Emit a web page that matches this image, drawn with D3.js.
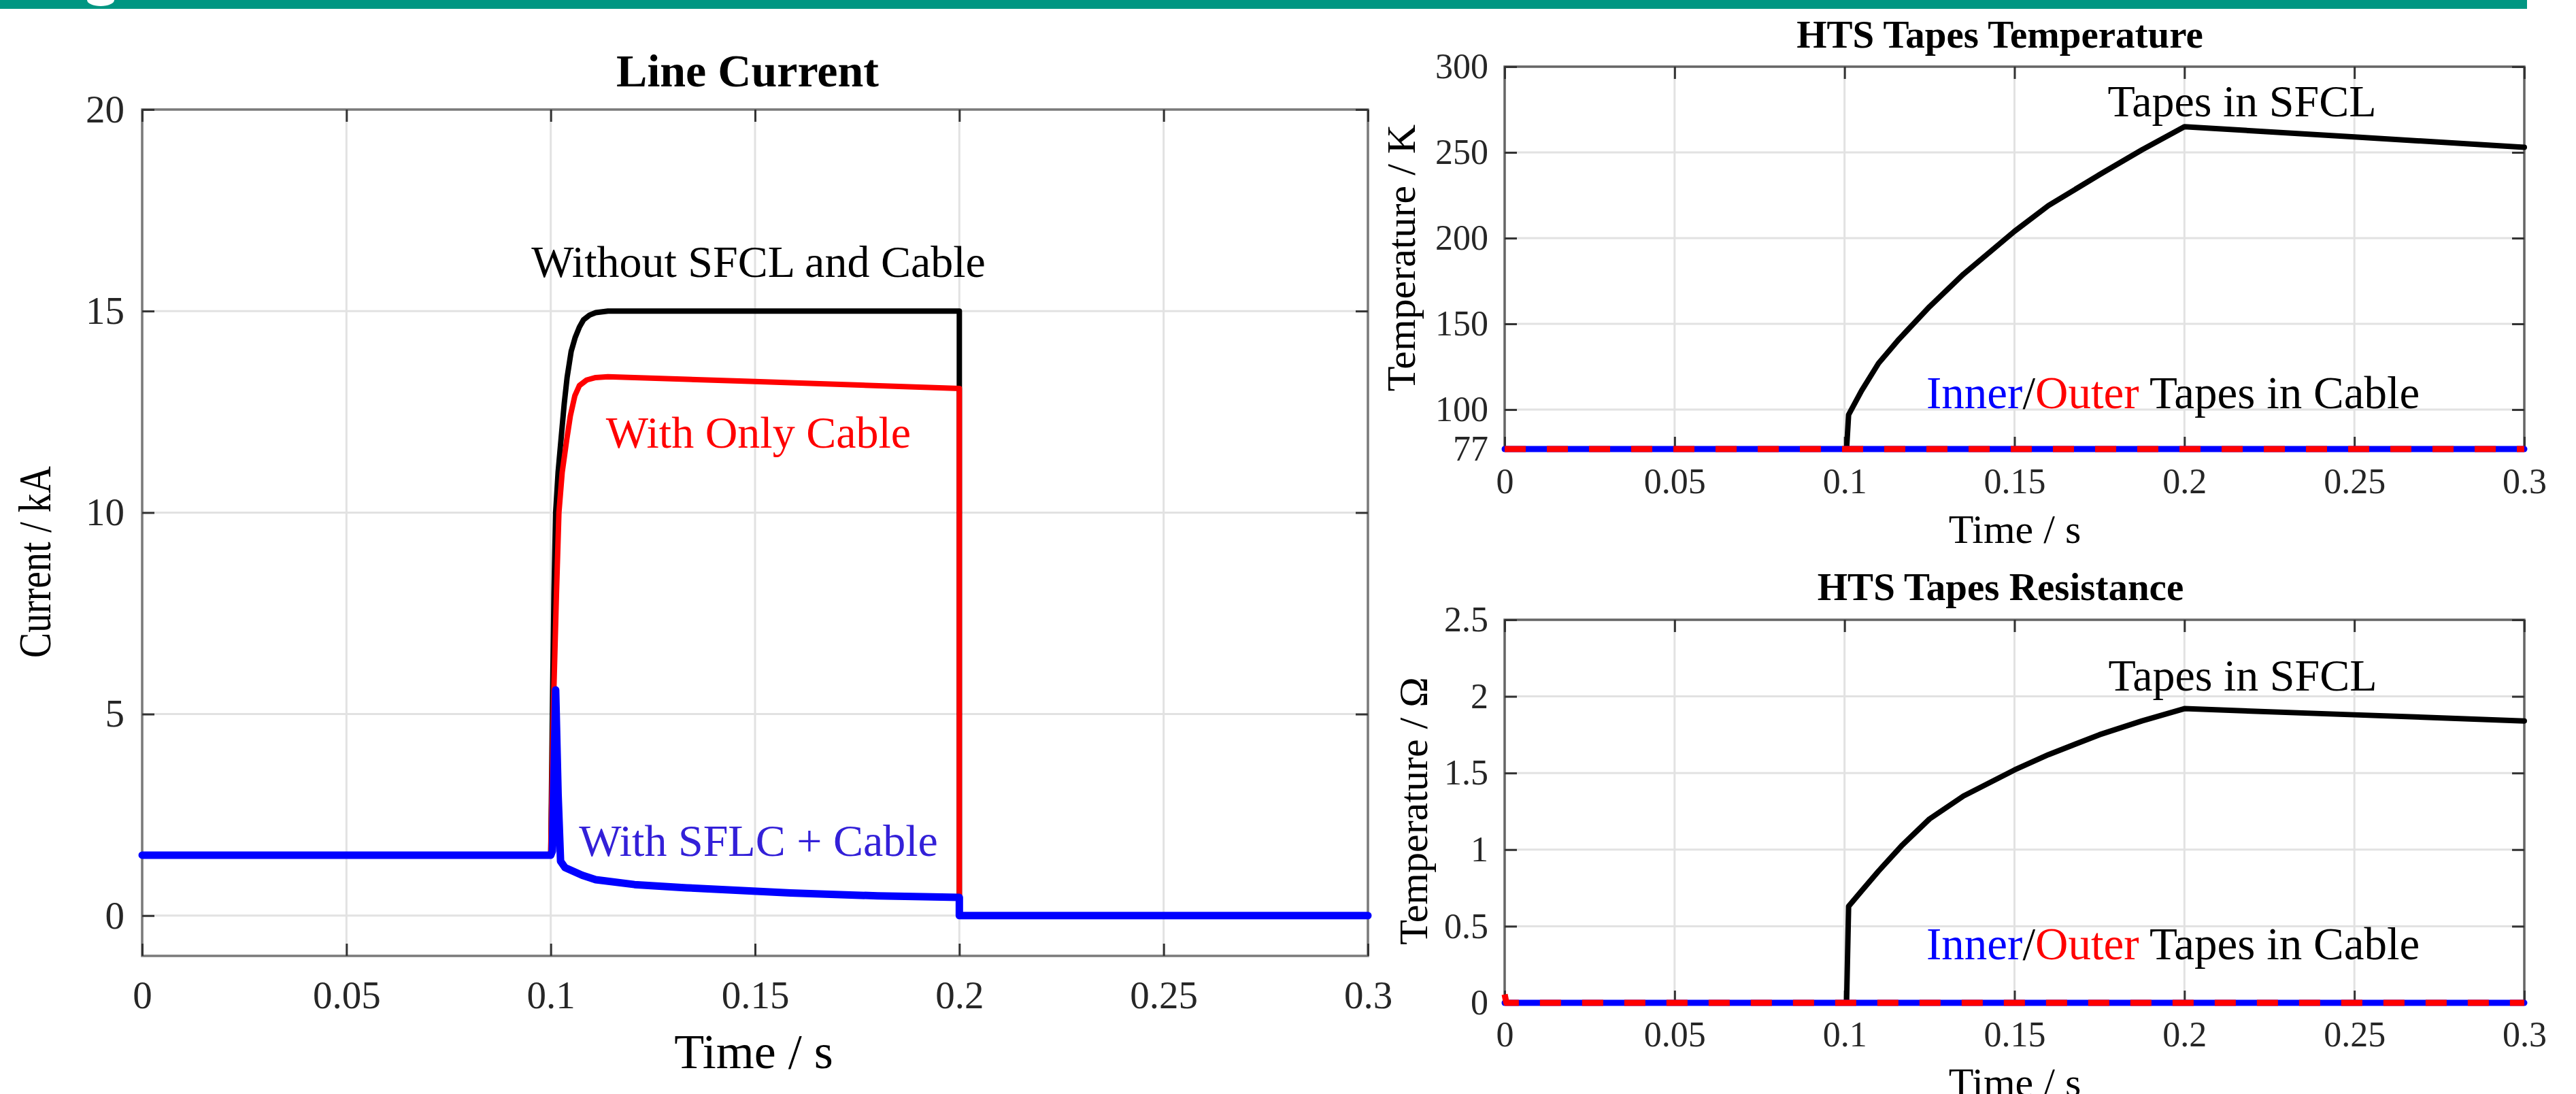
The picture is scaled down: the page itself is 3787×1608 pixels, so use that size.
<!DOCTYPE html>
<html><head><meta charset="utf-8">
<script src="https://cdn.jsdelivr.net/npm/d3@7"></script>
<style>html,body{margin:0;padding:0;background:#fff;} svg{display:block;}</style>
</head><body>
<svg id="c" width="3787" height="1608"></svg>
<script>
// ---------- data ----------
const timeTicks = [0, 0.05, 0.1, 0.15, 0.2, 0.25, 0.3];
const currentTicks = [0, 5, 10, 15, 20];
const tempTicks = [77, 100, 150, 200, 250, 300];
const resTicks = [0, 0.5, 1, 1.5, 2, 2.5];

// Line current (kA)
const tNoSfcl = [0, 0.1, 0.1004, 0.1008, 0.1012, 0.1018, 0.1025, 0.1033, 0.104, 0.105, 0.106, 0.107, 0.108, 0.1095, 0.111, 0.114, 0.2, 0.2, 0.3];
const iNoSfcl = [1.5, 1.5, 5.0, 8.0, 10.0, 11.0, 11.8, 12.7, 13.35, 14.0, 14.35, 14.6, 14.78, 14.9, 14.96, 15.0, 15.0, 0, 0];
const tCable = [0, 0.1, 0.1006, 0.1014, 0.102, 0.1028, 0.1039, 0.1048, 0.1059, 0.107, 0.1088, 0.111, 0.114, 0.15, 0.2, 0.2, 0.3];
const iCable = [1.5, 1.5, 5.0, 8.0, 10.0, 11.0, 11.8, 12.4, 12.9, 13.15, 13.29, 13.35, 13.37, 13.25, 13.08, 0, 0];
const tSfcl = [0, 0.1, 0.1004, 0.1012, 0.1018, 0.1024, 0.1035, 0.1077, 0.111, 0.1205, 0.1333, 0.1587, 0.18, 0.2, 0.2, 0.3];
const iSfcl = [1.5, 1.5, 1.6, 5.6, 3.0, 1.35, 1.19, 1.0, 0.89, 0.77, 0.69, 0.56, 0.49, 0.45, 0, 0];

// Temperature (K)
const tTempSfcl = [0, 0.1006, 0.1012, 0.105, 0.11, 0.116, 0.125, 0.135, 0.15, 0.16, 0.175, 0.1875, 0.2, 0.25, 0.3];
const tempSfcl = [77, 77, 97, 111, 127, 141, 160, 179, 204, 219, 237, 251.5, 265, 259, 253];
const tTempCable = [0, 0.3];
const tempInner = [77, 77];
const tempOuter = [77, 77];

// Resistance (Ohm)
const tResSfcl = [0, 0.1006, 0.1012, 0.105, 0.11, 0.117, 0.125, 0.135, 0.15, 0.16, 0.175, 0.1875, 0.2, 0.25, 0.3];
const resSfcl = [0, 0, 0.63, 0.73, 0.86, 1.03, 1.2, 1.35, 1.52, 1.62, 1.75, 1.84, 1.92, 1.88, 1.84];
const tResInner = [0, 0.3];
const resInner = [0, 0];
const tResOuter = [0, 0.0005, 0.3];
const resOuter = [0.055, 0, 0];

// ---------- drawing ----------
const FONT = "'Liberation Serif', 'Times New Roman', serif";
const svg = d3.select('#c');
svg.append('rect').attr('x', 0).attr('y', 0).attr('width', 3787).attr('height', 1608).attr('fill', '#fff');
svg.append('rect').attr('x', 0).attr('y', 0).attr('width', 3715).attr('height', 13).attr('fill', '#009682');
svg.append('ellipse').attr('cx', 148).attr('cy', 0).attr('rx', 20).attr('ry', 9).attr('fill', '#fff');

const zip = (ts, vs) => ts.map((t, i) => [t, vs[i]]);
const fmtNum = d => String(+d.toFixed(3));

function panel(c) {
  const g = svg.append('g');
  const x = d3.scaleLinear().domain(c.xd).range([c.l, c.r]);
  const y = d3.scaleLinear().domain(c.yd).range([c.b, c.t]);
  g.append('g').selectAll('line').data(c.xticks).join('line')
    .attr('x1', d => x(d)).attr('x2', d => x(d)).attr('y1', c.t).attr('y2', c.b)
    .attr('stroke', '#e2e2e2').attr('stroke-width', 3);
  g.append('g').selectAll('line').data(c.yticks).join('line')
    .attr('x1', c.l).attr('x2', c.r).attr('y1', d => y(d)).attr('y2', d => y(d))
    .attr('stroke', '#e2e2e2').attr('stroke-width', 3);
  g.append('rect').attr('x', c.l).attr('y', c.t).attr('width', c.r - c.l).attr('height', c.b - c.t)
    .attr('fill', 'none').attr('stroke', c.boxColor).attr('stroke-width', 3.5);
  const styleAxis = (sel, fs) => {
    sel.select('.domain').remove();
    sel.selectAll('.tick line').attr('stroke', '#333').attr('stroke-width', 3);
    sel.selectAll('.tick text').attr('fill', '#262626').style('font-family', FONT).style('font-size', fs + 'px');
  };
  g.append('g').attr('transform', `translate(0,${c.b})`)
    .call(d3.axisBottom(x).tickValues(c.xticks).tickFormat(fmtNum).tickSize(-c.tick).tickPadding(c.xpad))
    .call(s => styleAxis(s, c.fs));
  g.append('g').attr('transform', `translate(0,${c.t})`)
    .call(d3.axisTop(x).tickValues(c.xticks).tickFormat('').tickSize(-c.tick))
    .call(s => styleAxis(s, c.fs));
  g.append('g').attr('transform', `translate(${c.l},0)`)
    .call(d3.axisLeft(y).tickValues(c.yticks).tickFormat(fmtNum).tickSize(-c.tick).tickPadding(c.ypad))
    .call(s => styleAxis(s, c.fs));
  g.append('g').attr('transform', `translate(${c.r},0)`)
    .call(d3.axisRight(y).tickValues(c.yticks).tickFormat('').tickSize(-c.tick))
    .call(s => styleAxis(s, c.fs));
  const line = d3.line().x(d => x(d[0])).y(d => y(d[1]));
  c.series.forEach(s => {
    g.append('path').datum(s.data).attr('d', line).attr('fill', 'none')
      .attr('stroke', s.color).attr('stroke-width', s.w)
      .attr('stroke-linejoin', 'round').attr('stroke-linecap', s.dash ? 'butt' : 'round')
      .attr('stroke-dasharray', s.dash || null);
  });
  return { x, y, g };
}

function text(str, x, y, o = {}) {
  const t = svg.append('text').attr('x', 0).attr('y', 0)
    .attr('transform', `translate(${x},${y})` + (o.rot ? ` rotate(${o.rot})` : '') + (o.sx ? ` scale(${o.sx},1)` : ''))
    .attr('text-anchor', o.anchor || 'middle')
    .style('font-family', FONT).style('font-size', (o.fs || 60) + 'px')
    .style('font-weight', o.bold ? 'bold' : 'normal')
    .attr('fill', o.color || '#000');
  if (Array.isArray(str)) {
    str.forEach(p => t.append('tspan').attr('fill', p[1]).text(p[0]));
  } else t.text(str);
  return t;
}

// Left panel: Line Current
panel({
  l: 209, r: 2011, t: 161, b: 1405, xd: [0, 0.3], yd: [-1, 20],
  xticks: timeTicks, yticks: currentTicks, tick: 18, fs: 57, xpad: 37, ypad: 26, boxColor: '#7a7a7a',
  series: [
    { data: zip(tNoSfcl, iNoSfcl), color: '#000000', w: 8 },
    { data: zip(tCable, iCable), color: '#ff0000', w: 8 },
    { data: zip(tSfcl, iSfcl), color: '#0000ff', w: 11 }
  ]
});
text('Line Current', 1099, 127, { fs: 68, bold: true });
text('Without SFCL and Cable', 1115, 407, { fs: 66 });
text('With Only Cable', 1115, 658, { fs: 66, color: '#ff0000' });
text('With SFLC + Cable', 1115, 1258, { fs: 66, color: '#3320d8' });
text('Time / s', 1108, 1570, { fs: 72 });
text('Current / kA', 74, 826, { fs: 68, rot: -90, sx: 0.82 });

// Right top: temperature
panel({
  l: 2212, r: 3711, t: 98, b: 660, xd: [0, 0.3], yd: [77, 300],
  xticks: timeTicks, yticks: tempTicks, tick: 18, fs: 52, xpad: 28, ypad: 24, boxColor: '#666',
  series: [
    { data: zip(tTempSfcl, tempSfcl), color: '#000000', w: 8 },
    { data: zip(tTempCable, tempInner), color: '#0000ff', w: 9 },
    { data: zip(tTempCable, tempOuter), color: '#ff0000', w: 9, dash: '31,31' }
  ]
});
text('HTS Tapes Temperature', 2940, 70, { fs: 57, bold: true });
text('Tapes in SFCL', 3296, 171, { fs: 66 });
text([['Inner', '#0000ff'], ['/', '#000'], ['Outer', '#ff0000'], [' Tapes in Cable', '#000']], 2832, 600, { fs: 67, anchor: 'start' });
text('Time / s', 2962, 798, { fs: 60 });
text('Temperature / K', 2080, 379, { fs: 60, rot: -90 });

// Right bottom: resistance
panel({
  l: 2212, r: 3711, t: 911, b: 1474, xd: [0, 0.3], yd: [0, 2.5],
  xticks: timeTicks, yticks: resTicks, tick: 18, fs: 52, xpad: 27, ypad: 24, boxColor: '#666',
  series: [
    { data: zip(tResSfcl, resSfcl), color: '#000000', w: 8 },
    { data: zip(tResInner, resInner), color: '#0000ff', w: 9 },
    { data: zip(tResOuter, resOuter), color: '#ff0000', w: 9, dash: '31,31' }
  ]
});
text('HTS Tapes Resistance', 2941, 882, { fs: 57, bold: true });
text('Tapes in SFCL', 3297, 1015, { fs: 66 });
text([['Inner', '#0000ff'], ['/', '#000'], ['Outer', '#ff0000'], [' Tapes in Cable', '#000']], 2832, 1410, { fs: 67, anchor: 'start' });
text('Time / s', 2962, 1611, { fs: 60 });
text('Temperature / Ω', 2098, 1192, { fs: 60, rot: -90 });
</script>
</body></html>
